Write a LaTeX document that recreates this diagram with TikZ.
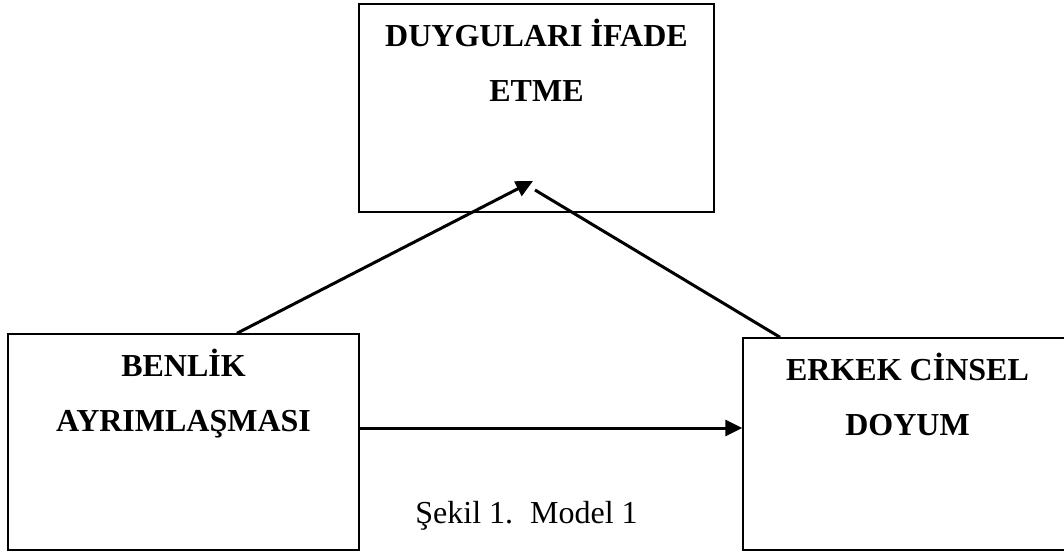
\documentclass[tikz,border=0pt]{standalone}
\usepackage{fontspec}
\setmainfont{Liberation Serif}
\usetikzlibrary{positioning,arrows.meta}

\tikzset{
  boxnode/.style={draw, line width=0.75pt, inner sep=0pt},
  titletext/.style={font=\bfseries\fontsize{16}{27.5}\selectfont, align=center, inner sep=0pt},
  link/.style={line width=1.5pt},
  arrowlink/.style={link, -{Triangle[length=8.5pt,width=8pt]}}
}

\begin{document}
\begin{tikzpicture}[x=0.5pt,y=-0.5pt]
\useasboundingbox (0,0) rectangle (1064,551);
\clip (0,0) rectangle (1064,551);

\node [boxnode, minimum width=177.5pt, minimum height=104pt] (emotion) at (536.5,108) {};
\node [boxnode, minimum width=175.5pt, minimum height=108pt] (self) at (183.5,442) {};
\node [boxnode, minimum width=164.5pt, minimum height=106pt] (satisfaction) at (907.5,444) {};

\node [titletext, below=7.5pt of emotion.north] (emotext) {DUYGULARI İFADE\\ETME};
\node [titletext, below=7.5pt of self.north] (selftext) {BENLİK\\AYRIMLAŞMASI};
\node [titletext, below=7.5pt of satisfaction.north] (sattext) {ERKEK CİNSEL\\DOYUM};

\coordinate (apex) at (533,181);
\coordinate (meet) at (535,190);

\draw [arrowlink] ([xshift=26.75pt]self.north) -- (apex);
\draw [link] ([xshift=-63.75pt]satisfaction.north) -- (meet);
\draw [arrowlink] ([yshift=7pt]self.east) coordinate (h) -- (h -| satisfaction.west);

\node [anchor=base west, inner sep=0pt, font=\fontsize{16}{19}\selectfont] (caption) at (415,523) {Şekil 1.\hspace{8.5pt}Model 1};
\end{tikzpicture}
\end{document}
